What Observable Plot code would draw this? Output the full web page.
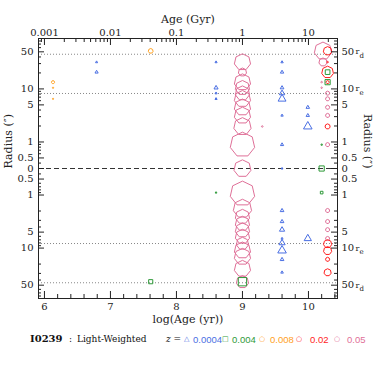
<!DOCTYPE html>
<html><head><meta charset="utf-8">
<script src="https://cdn.jsdelivr.net/npm/d3@7"></script>
<script src="https://cdn.jsdelivr.net/npm/@observablehq/plot@0.6"></script>
<style>
body{margin:0;background:#fff}
#wrap{position:relative;width:374px;height:374px;overflow:hidden;background:#fff}
#foot span{position:absolute;white-space:nowrap;line-height:1}
</style></head><body><div id="wrap"><div id="chart"></div><div id="foot"></div></div>
<script>
// ---------------- data ----------------
const metallicities = [0.0004, 0.004, 0.008, 0.02, 0.05];
const zLabels = ["0.0004", "0.004", "0.008", "0.02", "0.05"];
const zColors = ["#4a6fe3", "#2f9a3a", "#ffa01e", "#ff1e1e", "#df7098"];
const zGlyphs = ["\u25B3", "\u25A1", "\u25CB", "\u25CB", "\u25CB"];
const galaxy = "I0239";
const weighting = "Light-Weighted";

// rows: [log(Age/yr), radius in arcsec (+ upper side, − lower side), light fraction %]
const popZ0004 = [
  [6.79, 32, 0.4], [6.79, 20.7, 0.9],
  [8.60, 32, 0.4], [8.60, 10.5, 1.5], [8.60, 8.3, 0.4], [8.60, 6.5, 0.4],
  [9.60, 32, 0.5], [9.60, 20.7, 1.0], [9.60, 10.5, 1.2], [9.60, 8.3, 2.6], [9.60, 6.5, 5.5],
  [9.60, 3.16, 0.5], [9.60, 0.89, 0.9], [9.60, 0, 0.3],
  [9.99, 4.5, 1.1], [9.99, 3.16, 1.0], [9.99, 1.96, 6.5],
  [9.60, -1.96, 1.2], [9.60, -3.16, 1.2], [9.60, -4.5, 2.4], [9.60, -6.6, 0.4], [9.60, -8.0, 3.4],
  [9.60, -11.1, 6.5], [9.60, -16.4, 1.2], [9.60, -28.7, 0.6],
  [9.99, -6.6, 4.7]
];
const popZ004 = [
  [10.29, 20.7, 4.4], [10.29, 13.4, 5.5], [10.20, 0.89, 0.3], [10.20, 0, 5.5],
  [10.20, -0.9, 1.4], [8.60, -0.9, 0.3], [7.61, -43, 3.5], [9.00, -43, 14]
];
const popZ008 = [
  [6.13, 13.4, 1.6], [6.13, 10.5, 0.3], [6.13, 6.5, 0.3], [7.61, 52, 3.7]
];
const popZ02 = [
  [10.29, 52, 12], [10.29, 32, 0.4], [10.29, 20.7, 23], [10.29, 13.4, 1.6], [10.29, 1.96, 4.3],
  [10.29, -8.3, 11], [10.29, -11.2, 11], [10.29, -16.3, 2.8], [10.29, -28.7, 8.5]
];
const popZ05 = [
  [9.00, 32, 44], [9.00, 20.7, 11], [9.00, 13.4, 44], [9.00, 10.5, 34], [9.00, 8.3, 34],
  [9.00, 6.5, 44], [9.00, 4.5, 44], [9.00, 3.16, 44], [9.00, 1.96, 50], [9.00, 0.89, 100], [9.00, 0, 48],
  [9.00, -0.94, 100], [9.00, -1.8, 56], [9.00, -2.55, 34], [9.00, -3.45, 34], [9.00, -4.6, 34],
  [9.00, -6.07, 34], [9.00, -8.2, 25], [9.00, -11, 44], [9.00, -14.5, 44], [9.00, -24.4, 44], [9.00, -43.4, 25],
  [10.22, 52, 50], [10.22, 32, 11], [10.20, 13.4, 0.4], [10.20, 10.5, 0.4],
  [10.29, 8.3, 2.8], [10.29, 6.5, 2.8], [10.29, 4.5, 2.8], [10.29, 3.16, 2.8], [10.29, 0.89, 2.8],
  [9.30, 1.96, 0.4],
  [10.29, -1.96, 2.8], [10.29, -3.16, 2.8], [10.29, -4.5, 2.8], [10.29, -6.6, 2.8]
];

const rEffective = 8.2;   // r_e (arcsec)
const rDisk = 45;         // r_d (arcsec)
const logAgeTicks = [6, 7, 8, 9, 10];
const ageGyrTicks = [0.001, 0.01, 0.1, 1, 10];
const radiusTicks = [0, 0.5, 1, 5, 10, 50];
const radiusMinor = [0.4, 0.6, 0.7, 0.8, 0.9, 2, 3, 4, 6, 7, 8, 9, 20, 30, 40, 60, 70, 80];

// ---------------- helpers ----------------
const toS = r => r === 0 ? 0 : Math.sign(r) * (Math.log10(Math.abs(r)) + 0.5);
const rows = arr => arr.map(([age, radius, frac]) => ({age, radius, frac}));
const mirror = vals => vals.flatMap(v => v === 0 ? [0] : [v, -v]);
const xDomain = [5.91, 10.44];
const logAgeMinor = d3.range(6, 10.41, 0.2).map(v => +v.toFixed(1)).filter(v => !Number.isInteger(v));
const ageMinor = [];
for (let e = -4; e <= 1; e++) for (let k = 2; k <= 9; k++) {
  const v = Math.log10(k * Math.pow(10, e) * 1e9);
  if (v > xDomain[0] && v < xDomain[1]) ageMinor.push(v);
}
// polygonal "circle" (heptagon, vertex up) as drawn by the original plotting package
const polyCircle = {
  draw(ctx, size) {
    const r = Math.sqrt(size / Math.PI), n = 7;
    for (let i = 0; i < n; i++) {
      const a = -Math.PI / 2 + 2 * Math.PI * i / n;
      const px = r * Math.cos(a), py = r * Math.sin(a);
      i ? ctx.lineTo(px, py) : ctx.moveTo(px, py);
    }
    ctx.closePath();
  }
};

const W = 374, ML = 38, MR = 37, MT = 38, MB = 32, H = 330;
const FW = W - ML - MR, FH = H - MT - MB;
const ink = "#222";
const serif = "DejaVu Serif";

const yMaj = mirror(radiusTicks).map(toS);
const yMin = mirror(radiusMinor).map(toS);

const dotMark = (arr, i, symbol) => Plot.dot(rows(arr), {
  x: "age", y: d => toS(d.radius), r: "frac", symbol,
  fill: "none", stroke: zColors[i], strokeWidth: 1
});

const chart = Plot.plot({
  width: W, height: H,
  marginLeft: ML, marginRight: MR, marginTop: MT, marginBottom: MB,
  style: {fontFamily: serif, background: "#fff"},
  x: {domain: xDomain, axis: null},
  y: {domain: [-2.45, 2.45], axis: null},
  r: {type: "sqrt", domain: [0, 100], range: [0, 12.5]},
  marks: [
    // reference lines
    Plot.ruleY(mirror([rEffective, rDisk]).map(toS), {stroke: "#888", strokeDasharray: "1,2"}),
    Plot.ruleY([0], {stroke: "#333", strokeDasharray: "5,3"}),
    // populations
    dotMark(popZ05, 4, polyCircle),
    dotMark(popZ02, 3, polyCircle),
    dotMark(popZ008, 2, polyCircle),
    dotMark(popZ0004, 0, "triangle"),
    dotMark(popZ004, 1, "square"),
    // ticks (inward)
    Plot.tickY(yMaj, {y: d => d, insetRight: FW - 6, stroke: ink}),
    Plot.tickY(yMin, {y: d => d, insetRight: FW - 3, stroke: ink}),
    Plot.tickY(yMaj, {y: d => d, insetLeft: FW - 6, stroke: ink}),
    Plot.tickY(yMin, {y: d => d, insetLeft: FW - 3, stroke: ink}),
    Plot.tickX(logAgeTicks, {x: d => d, insetTop: FH - 7, stroke: ink}),
    Plot.tickX(logAgeMinor, {x: d => d, insetTop: FH - 4, stroke: ink}),
    Plot.tickX(ageGyrTicks.map(a => Math.log10(a * 1e9)), {x: d => d, insetBottom: FH - 7, stroke: ink}),
    Plot.tickX(ageMinor, {x: d => d, insetBottom: FH - 4, stroke: ink}),
    Plot.frame({stroke: ink}),
    // tick labels
    Plot.text(logAgeTicks, {x: d => d, frameAnchor: "bottom", dy: 11, text: d => String(d), fontSize: 10, fill: ink}),
    Plot.text(ageGyrTicks, {x: a => Math.log10(a * 1e9), frameAnchor: "top", dy: -10, text: a => String(a), fontSize: 10, fill: ink}),
    Plot.text(mirror(radiusTicks), {y: toS, frameAnchor: "left", dx: -5, textAnchor: "end", text: v => String(Math.abs(v)), fontSize: 10, fill: ink}),
    Plot.text(mirror(radiusTicks), {y: toS, frameAnchor: "right", dx: 4, textAnchor: "start", text: v => String(Math.abs(v)), fontSize: 10, fill: ink}),
    // r_e / r_d tags
    Plot.text(mirror([10, 50]), {y: toS, frameAnchor: "right", dx: 18, textAnchor: "start", text: () => "r", fontSize: 8, fill: ink}),
    Plot.text(mirror([10]), {y: toS, frameAnchor: "right", dx: 22, dy: 4, textAnchor: "start", text: () => "e", fontSize: 7, fill: ink}),
    Plot.text(mirror([50]), {y: toS, frameAnchor: "right", dx: 22, dy: 4, textAnchor: "start", text: () => "d", fontSize: 7, fill: ink}),
    // axis titles
    Plot.text(["Age (Gyr)"], {frameAnchor: "top", dy: -23, fontSize: 11, fill: ink}),
    Plot.text(["log(Age (yr))"], {frameAnchor: "bottom", dy: 24, fontSize: 11, fill: ink}),
    Plot.text(["Radius (\u2033)"], {frameAnchor: "left", dx: -30, rotate: -90, fontSize: 11, fill: ink}),
    Plot.text(["Radius (\u2033)"], {frameAnchor: "right", dx: 30, rotate: 90, fontSize: 11, fill: ink})
  ]
});
document.getElementById("chart").appendChild(chart);

// ---------------- footer legend ----------------
const foot = document.getElementById("foot");
const add = (txt, left, style) => {
  const s = document.createElement("span");
  s.textContent = txt;
  s.style.left = left + "px";
  s.style.top = "334px";
  Object.assign(s.style, style);
  foot.appendChild(s);
};
add(galaxy, 30, {fontFamily: serif, fontWeight: "bold", fontSize: "10px", color: "#111"});
add(":", 69, {fontFamily: serif, fontSize: "9px", color: "#111", top: "335px"});
add(weighting, 77, {fontFamily: serif, fontSize: "9px", color: "#111", top: "335px"});
add("z =", 166, {fontFamily: serif, fontStyle: "italic", fontSize: "9px", color: "#111", top: "335px"});
const glyphX = [184, 222, 259, 296, 334];
const numX = [193, 232, 270, 310, 347];
metallicities.forEach((z, i) => {
  add(zGlyphs[i], glyphX[i], {fontFamily: "DejaVu Sans", fontSize: "7px", color: zColors[i], top: "336px"});
  add(zLabels[i], numX[i], {fontFamily: "Liberation Sans", fontSize: "9.5px", color: zColors[i], top: "335px"});
});
</script></body></html>
